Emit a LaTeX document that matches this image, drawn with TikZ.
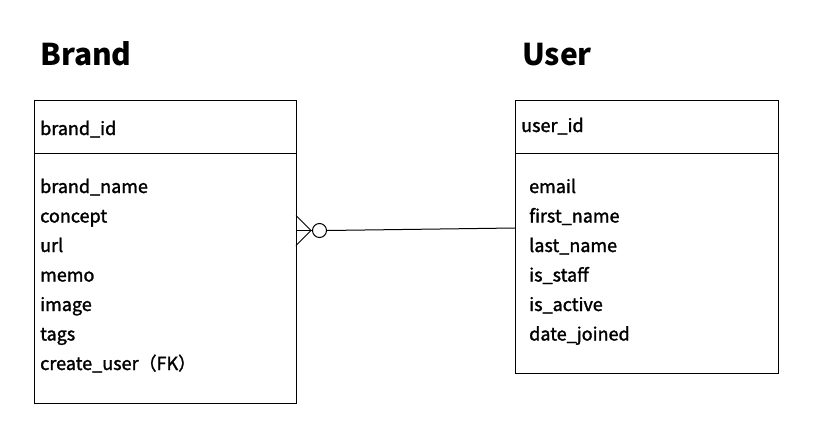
\documentclass[tikz,border=0pt]{standalone}
\usepackage{fontspec}
\setmainfont{Noto Sans CJK JP}
\newfontfamily\erfont{Noto Sans CJK JP}
\newfontfamily\erfieldfont[FakeBold=1.6]{Noto Sans CJK JP}
\usetikzlibrary{positioning}

\tikzset{
    entity/.style = {draw, line width=1pt, anchor=north west, inner sep=0},
    title/.style = {anchor=base west, inner sep=0, font=\erfont\bfseries\fontsize{30}{30}\selectfont},
    field/.style = {anchor=base west, inner sep=0, font=\erfieldfont\fontsize{18}{18}\selectfont},
}

\begin{document}
\begin{tikzpicture}[x=1pt, y=-1pt]
    \useasboundingbox (0, 0) rectangle (825, 442);

    % Brand
    \node[title] (brandtitle) at (40, 65) {Brand};
    \node[entity, minimum width=262, minimum height=303] (brand) at (34, 100) {};
    \draw[line width=1pt] (34, 153) -- (296, 153);
    \node[field] (brandid) at (40, 135) {brand\_id};
    \foreach \f [count=\i from 0] in {brand\_name, concept, url, memo, image, tags, create\_user（FK）}
        \node[field] (bf\i) at (40, 193 + 29.5*\i) {\f};

    % User
    \node[title] (usertitle) at (522, 65) {User};
    \node[entity, minimum width=263, minimum height=273] (user) at (515, 100) {};
    \draw[line width=1pt] (515, 153) -- (778, 153);
    \node[field] (userid) at (521, 132) {user\_id};
    \foreach \f [count=\i from 0] in {email, first\_name, last\_name, is\_staff, is\_active, date\_joined}
        \node[field] (uf\i) at (529, 193 + 29.5*\i) {\f};

    % relation: zero or many
    \coordinate (ua) at (515, 228);
    \coordinate (cf) at (311, 230.5);
    \node[draw, circle, line width=1pt, minimum size=14, inner sep=0] (opt) at (319.5, 230.5) {};
    \draw[line width=1pt] (ua) -- (opt.east);
    \draw[line width=1pt] (opt.west) -- (cf);
    \draw[line width=1pt] (cf) -- (296, 215.5);
    \draw[line width=1pt] (cf) -- (296, 245.5);
    \draw[line width=1pt] (cf) -- (296, 230.5);
\end{tikzpicture}
\end{document}
